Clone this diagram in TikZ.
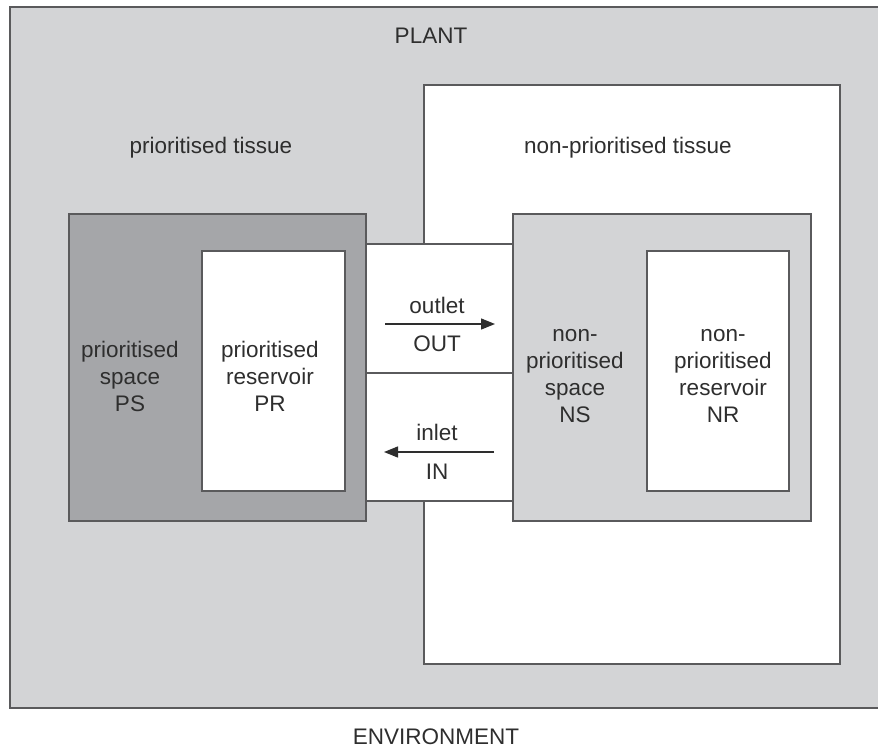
\documentclass[tikz,border=0pt]{standalone}
\usepackage{fontspec}
\setmainfont{Liberation Sans}
\usetikzlibrary{arrows.meta}
\definecolor{lgray}{HTML}{D3D4D6}
\definecolor{dgray}{HTML}{A5A6A9}
\definecolor{edge}{HTML}{5A5A5C}
\definecolor{txt}{HTML}{2E2E2E}
\tikzset{
  box/.style={draw=edge, line width=1.5pt},
  lbl/.style={align=center, text=txt, font=\fontsize{22.5}{27}\selectfont, inner sep=0pt},
  flow/.style={draw=txt, line width=1.3pt, -{Triangle[length=14pt,width=11pt]}}
}
\begin{document}
\begin{tikzpicture}[x=1pt,y=-1pt]
\useasboundingbox (0,0) rectangle (878,750);
% plant
\fill[lgray] (10,7) rectangle (878,708);
\draw[edge, line width=2.6pt] (878,7) -- (10,7) -- (10,708) -- (878,708);
% non-prioritised tissue
\draw[box, fill=white] (424,85) rectangle (840,664);
% channel
\draw[box, fill=white] (365,244) rectangle (513,501);
\draw[box] (365,373) -- (513,373);
% prioritised space and reservoir
\draw[box, fill=dgray] (69,214) rectangle (366,521);
\draw[box, fill=white] (202,251) rectangle (345,491);
% non-prioritised space and reservoir
\draw[box, fill=lgray] (513,214) rectangle (811,521);
\draw[box, fill=white] (647,251) rectangle (789,491);
% labels
\node[lbl] (plant) at (431,36) {PLANT};
\node[lbl] (ptis) at (211,148) {prioritised tissue};
\node[lbl] (ntis) at (628,148) {non-prioritised tissue};
\node[lbl] (env) at (436,737) {ENVIRONMENT};
\node[lbl] (ps) at (130,376) {prioritised\\space\\PS};
\node[lbl] (pr) at (270,376) {prioritised\\reservoir\\PR};
\node[lbl] (ns) at (575,376) {non-\\prioritised\\space\\NS};
\node[lbl] (nr) at (723,376) {non-\\prioritised\\reservoir\\NR};
\node[lbl] (outlet) at (437,305) {outlet};
\node[lbl] (out) at (437,344) {OUT};
\node[lbl] (inlet) at (437,432) {inlet};
\node[lbl] (in) at (437,472) {IN};
% flows
\coordinate (o1) at (385,324);
\coordinate (o2) at (495,324);
\coordinate (i1) at (494,452);
\coordinate (i2) at (384,452);
\draw[flow] (o1) -- (o2);
\draw[flow] (i1) -- (i2);
\end{tikzpicture}
\end{document}
